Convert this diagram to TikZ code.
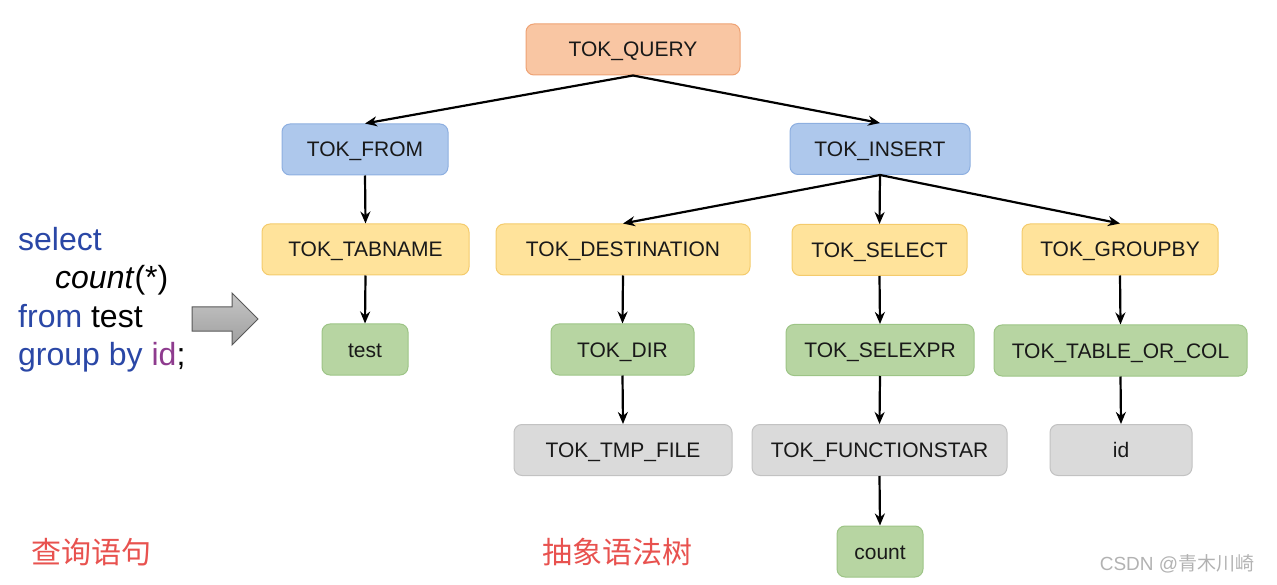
\documentclass[tikz,border=0pt]{standalone}
\usepackage{fontspec}
\setmainfont{Liberation Sans}
\newfontfamily\cjk{Noto Sans CJK SC}
\usetikzlibrary{arrows.meta}
\definecolor{orfill}{HTML}{F9C6A3}
\definecolor{ordraw}{HTML}{EEA274}
\definecolor{blfill}{HTML}{AEC8EC}
\definecolor{bldraw}{HTML}{8DAFE0}
\definecolor{yefill}{HTML}{FFE39B}
\definecolor{yedraw}{HTML}{F4CB6C}
\definecolor{grfill}{HTML}{B7D5A2}
\definecolor{grdraw}{HTML}{9DC486}
\definecolor{gyfill}{HTML}{DADADA}
\definecolor{gydraw}{HTML}{C2C2C2}
\definecolor{sqlblue}{HTML}{2A47A6}
\definecolor{sqlpurple}{HTML}{8E3B8E}
\definecolor{cnred}{HTML}{E8524F}
\tikzset{
  tok/.style={draw, line width=1pt, rounded corners=8pt, minimum height=51pt, inner sep=0pt,
    text height=15pt, text depth=0pt,
    font=\fontsize{21}{25}\selectfont, text=black!90},
  orn/.style={tok, fill=orfill, draw=ordraw},
  bln/.style={tok, fill=blfill, draw=bldraw},
  yen/.style={tok, fill=yefill, draw=yedraw},
  grn/.style={tok, fill=grfill, draw=grdraw},
  gyn/.style={tok, fill=gyfill, draw=gydraw},
  edge/.style={line width=2.2pt, -{Stealth[length=12pt,width=10pt]}},
  sql/.style={anchor=base west, inner sep=0pt, font=\fontsize{32}{38}\selectfont},
  cn/.style={inner sep=0pt, text=cnred, font=\cjk\fontsize{30}{35}\selectfont}
}
\begin{document}
\begin{tikzpicture}[x=1pt,y=-1pt]
\useasboundingbox (0,0) rectangle (1277,585);
% tree nodes
\node[orn, minimum width=214pt] (q) at (633,49.5) {TOK\_QUERY};
\node[bln, minimum width=166pt] (from) at (365,149.5) {TOK\_FROM};
\node[bln, minimum width=180pt] (ins) at (880,149) {TOK\_INSERT};
\node[yen, minimum width=207pt] (tab) at (365.5,249.5) {TOK\_TABNAME};
\node[yen, minimum width=254pt] (dest) at (623,249.5) {TOK\_DESTINATION};
\node[yen, minimum width=175pt] (sel) at (879.5,250) {TOK\_SELECT};
\node[yen, minimum width=196pt] (grp) at (1120,249.5) {TOK\_GROUPBY};
\node[grn, minimum width=86pt] (test) at (365,349.5) {test};
\node[grn, minimum width=143pt] (dir) at (622.5,349.5) {TOK\_DIR};
\node[grn, minimum width=188pt] (selx) at (880,350) {TOK\_SELEXPR};
\node[grn, minimum width=253pt] (toc) at (1120.5,350.5) {TOK\_TABLE\_OR\_COL};
\node[gyn, minimum width=218pt] (tmp) at (623,450) {TOK\_TMP\_FILE};
\node[gyn, minimum width=255pt] (fs) at (879.5,450) {TOK\_FUNCTIONSTAR};
\node[gyn, minimum width=142pt] (id) at (1121,450) {id};
\node[grn, minimum width=86pt] (cnt) at (880,551.5) {count};
% edges
\draw[edge] (q.south) -- (from.north);
\draw[edge] (q.south) -- (ins.north);
\draw[edge] (from.south) -- (tab.north);
\draw[edge] (tab.south) -- (test.north);
\draw[edge] (ins.south) -- (dest.north);
\draw[edge] (ins.south) -- (sel.north);
\draw[edge] (ins.south) -- (grp.north);
\draw[edge] (dest.south) -- (dir.north);
\draw[edge] (dir.south) -- (tmp.north);
\draw[edge] (sel.south) -- (selx.north);
\draw[edge] (selx.south) -- (fs.north);
\draw[edge] (fs.south) -- (cnt.north);
\draw[edge] (grp.south) -- (toc.north);
\draw[edge] (toc.south) -- (id.north);
% SQL text
\node[sql, text=sqlblue] (l1) at (18,251) {select};
\node[sql, text=black] (l2) at (55,289) {\textit{count}(*)};
\node[sql] (l3) at (18,327) {\textcolor{sqlblue}{from} test};
\node[sql] (l4) at (18,365) {\textcolor{sqlblue}{group by} \textcolor{sqlpurple}{id};};
% block arrow
\draw[line width=1pt, draw=black!65, top color=gray!45, bottom color=gray!75]
  (192,307) -- (232,307) -- (232,293) -- (258,319) -- (232,345) -- (232,331) -- (192,331) -- cycle;
% captions
\node[cn] (c1) at (91,552) {查询语句};
\node[cn] (c2) at (617,552) {抽象语法树};
\node[inner sep=0pt, text=black!30, font=\fontsize{19}{22}\selectfont] (wm) at (1177,564) {CSDN @{\cjk 青木川崎}};
\end{tikzpicture}
\end{document}
